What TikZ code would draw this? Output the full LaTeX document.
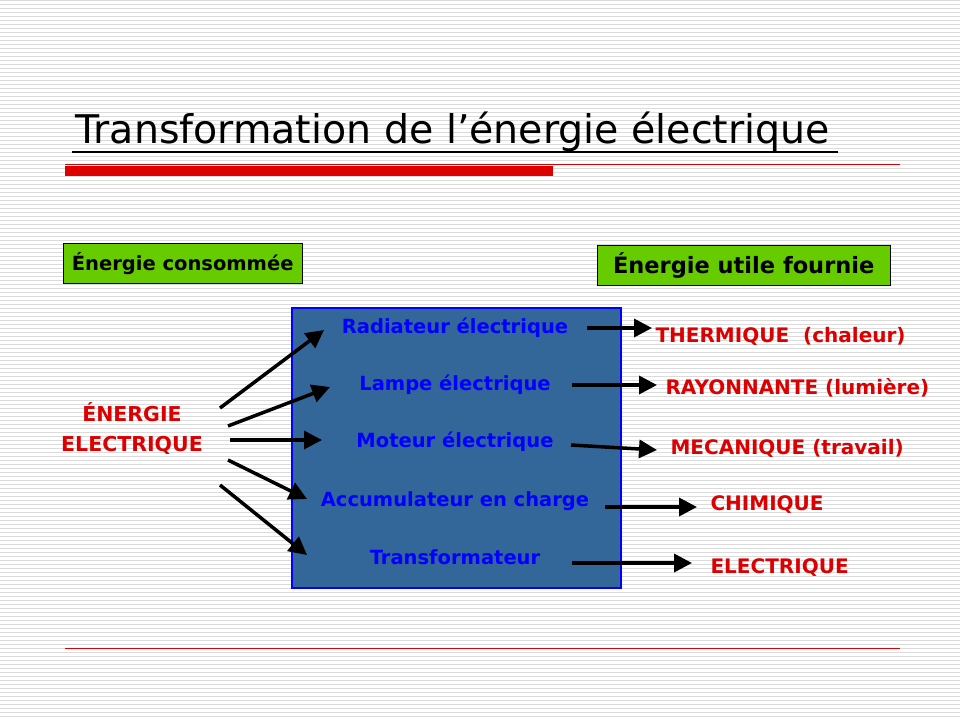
\documentclass[tikz,border=0pt]{standalone}
\usepackage{fontspec}
\setmainfont{DejaVu Sans}
\usetikzlibrary{arrows.meta}
\definecolor{boxblue}{RGB}{51,102,153}
\definecolor{lgreen}{RGB}{102,204,0}
\definecolor{dred}{RGB}{220,0,0}
\tikzset{
 arr/.style={line width=3.5pt,-{Triangle[length=18pt,width=18pt]}},
 inlab/.style={font=\fontsize{19.5}{22}\selectfont\bfseries,text=blue},
 outlab/.style={font=\fontsize{20}{22}\selectfont\bfseries,text=dred,anchor=west},
 gbox/.style={draw=black,fill=lgreen,font=\fontsize{19.5}{22}\selectfont\bfseries,inner sep=0pt,anchor=north west}
}
\begin{document}
\begin{tikzpicture}[x=1pt,y=-1pt]
\useasboundingbox (0,0) rectangle (960,720);
\fill[white] (0,0) rectangle (960,720);
\foreach \i in {0,...,179}{\fill[black!14] (0,\i*4) rectangle (960,\i*4+1.2);}
% title
\node[anchor=base west,font=\fontsize{39.5}{44}\selectfont,inner sep=0pt] (title) at (75,143) {Transformation de l’énergie électrique};
\draw[line width=1.5pt] (72,152) -- (838,152);
\draw[dred,line width=0.8pt] (65,164) -- (900,164);
\fill[dred] (65,166) rectangle (553,176);
\draw[dred,line width=0.8pt] (65,648) -- (900,648);
% green boxes
\node[gbox,minimum width=239pt,minimum height=40pt] (gc) at (63,243) {Énergie consommée};
\node[gbox,minimum width=293pt,minimum height=40pt,font=\fontsize{22.5}{25}\selectfont\bfseries] (gu) at (597,245) {Énergie utile fournie};
% blue box
\node[draw=blue,line width=2pt,fill=boxblue,minimum width=329pt,minimum height=280pt,anchor=north west,inner sep=0pt] (box) at (291,307) {};
\node[inlab] (t1) at (455,328) {Radiateur électrique};
\node[inlab] (t2) at (455,385) {Lampe électrique};
\node[inlab] (t3) at (455,442) {Moteur électrique};
\node[inlab] (t4) at (455,501) {Accumulateur en charge};
\node[inlab] (t5) at (455,557) {Transformateur};
% source
\node[font=\fontsize{20.5}{30}\selectfont\bfseries,text=dred,align=center] (src) at (132,428) {ÉNERGIE\\ELECTRIQUE};
\coordinate (a1) at (220,408); \coordinate (b1) at (324,330);
\coordinate (a2) at (228,426); \coordinate (b2) at (330,387);
\coordinate (a3) at (230,440); \coordinate (b3) at (322,440);
\coordinate (a4) at (228,460); \coordinate (b4) at (307,499);
\coordinate (a5) at (220,485); \coordinate (b5) at (307,555);
\foreach \k in {1,...,5}{\draw[arr] (a\k) -- (b\k);}
% outputs
\node[outlab] (o1) at (652,336) {THERMIQUE\hspace{14pt}(chaleur)};
\node[outlab] (o2) at (662,388) {RAYONNANTE (lumière)};
\node[outlab] (o3) at (667,448) {MECANIQUE (travail)};
\node[outlab] (o4) at (707,505) {CHIMIQUE};
\node[outlab] (o5) at (707,568) {ELECTRIQUE};
\coordinate (c1) at (587,328); \coordinate (d1) at (652,328);
\coordinate (c2) at (572,385); \coordinate (d2) at (657,385);
\coordinate (c3) at (571,445); \coordinate (d3) at (657,450);
\coordinate (c4) at (605,507); \coordinate (d4) at (697,507);
\coordinate (c5) at (572,563); \coordinate (d5) at (692,563);
\foreach \k in {1,...,5}{\draw[arr] (c\k) -- (d\k);}
\end{tikzpicture}
\end{document}
